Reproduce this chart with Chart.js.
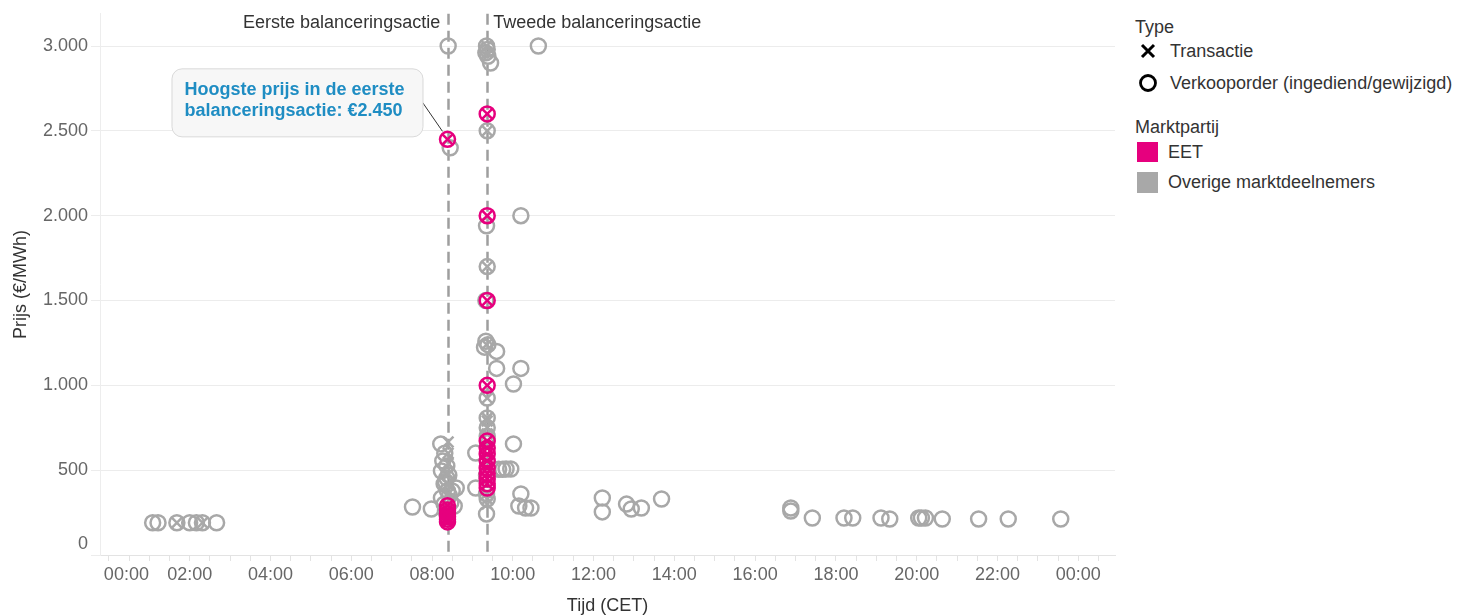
<!DOCTYPE html>
<html lang="nl">
<head>
<meta charset="utf-8">
<title>Verkooporders en transacties</title>
<script src="https://cdn.jsdelivr.net/npm/chart.js@4.4.1/dist/chart.umd.min.js"></script>
<style>
  html, body { margin: 0; padding: 0; background: #fff; }
  body { width: 1462px; height: 615px; overflow: hidden; position: relative;
         font-family: 'Liberation Sans', Arial, sans-serif; color: #333; }
  #chartWrap { position: absolute; left: 0; top: 0; width: 1125px; height: 615px; }
  .lg { position: absolute; font-size: 18px; height: 22px; line-height: 22px; white-space: nowrap; }
  .lg svg { position: absolute; }
</style>
</head>
<body>
<div id="chartWrap"><canvas id="prijsChart"></canvas></div>

<div class="lg" style="left:1135px; top:16px;">Type</div>
<div class="lg" style="left:1140px; top:40px;">
  <svg width="16" height="16" style="left:0; top:3px;"><path d="M2 2 L14 14 M14 2 L2 14" stroke="#000" stroke-width="3"/></svg>
  <span style="position:absolute; left:30px;">Transactie</span>
</div>
<div class="lg" style="left:1139px; top:72px;">
  <svg width="20" height="20" style="left:-1px; top:1px;"><circle cx="10" cy="10" r="7.5" fill="none" stroke="#000" stroke-width="2.8"/></svg>
  <span style="position:absolute; left:31px;">Verkooporder (ingediend/gewijzigd)</span>
</div>
<div class="lg" style="left:1135px; top:116px;">Marktpartij</div>
<div class="lg" style="left:1137px; top:141px;">
  <svg width="21" height="21" style="left:0; top:1px;"><rect width="21" height="20" fill="#e6007e"/></svg>
  <span style="position:absolute; left:31px;">EET</span>
</div>
<div class="lg" style="left:1137px; top:171px;">
  <svg width="21" height="21" style="left:0; top:1px;"><rect width="21" height="21" fill="#a8a8a8"/></svg>
  <span style="position:absolute; left:31px;">Overige marktdeelnemers</span>
</div>

<script>
// Tijd (CET) en prijs (EUR/MWh) per reeks
const eetTransactieTijd = ['08:23', '08:23', '08:23', '08:23', '08:23', '08:23', '08:23',
    '09:22', '09:22', '09:22', '09:22', '09:22', '09:22', '09:22', '09:22', '09:22', '09:22', '09:22', '09:22'];
const eetTransactiePrijs = [2450, 290, 265, 245, 225, 210, 195,
    2600, 2000, 1500, 1000, 672, 630, 596, 555, 513, 480, 448, 420];

const eetOrderTijd = ['08:23', '08:23', '08:23', '08:23', '08:23', '08:23', '08:23',
    '09:22', '09:22', '09:22', '09:22', '09:22', '09:22', '09:22', '09:22', '09:22', '09:22', '09:22', '09:22', '09:22'];
const eetOrderPrijs = [2450, 290, 265, 245, 225, 210, 195,
    2600, 2000, 1500, 1000, 672, 630, 596, 555, 513, 480, 448, 420, 395];

const overigeTransactieTijd = ['01:41', '02:19',
    '08:24', '08:24', '08:24', '08:24', '08:24', '08:24', '08:24',
    '09:21', '09:22', '09:22', '09:22', '09:21', '09:22', '09:22', '09:22', '09:22', '09:22', '09:22', '09:22', '09:22'];
const overigeTransactiePrijs = [190, 190,
    666, 600, 540, 480, 420, 360, 300,
    3000, 2960, 2500, 1700, 1240, 925, 808, 790, 750, 713, 365, 330, 300];

const overigeOrderTijd = [
    '01:05', '01:13', '01:41', '02:00', '02:10', '02:19', '02:40',
    '07:31', '07:59',
    '08:13', '08:19', '08:16', '08:22', '08:14', '08:25', '08:22', '08:20', '08:18', '08:23',
    '08:26', '08:14', '08:28', '08:18', '08:20', '08:33', '08:30', '08:36', '08:24', '08:27',
    '09:05', '09:05', '09:21', '09:22', '09:20', '09:23', '09:27', '09:22', '09:21', '09:22',
    '09:20', '09:20', '09:23', '09:18', '09:36', '09:36', '09:22', '09:22', '09:22', '09:22',
    '09:21', '09:22', '09:21', '09:21',
    '09:39', '09:45', '09:50', '09:57', '10:01', '10:01', '10:12', '10:12', '10:38', '10:12',
    '10:09', '10:19', '10:27',
    '12:13', '12:13', '12:49', '12:56', '13:11', '13:41',
    '16:53', '16:53', '17:25', '18:12', '18:25', '19:07', '19:20', '20:03', '20:07', '20:13',
    '20:38', '21:32', '22:16', '23:34'];
const overigeOrderPrijs = [
    190, 190, 190, 190, 190, 190, 190,
    283, 271,
    655, 600, 554, 525, 495, 470, 454, 430, 419, 377,
    350, 336, 310, 300, 260, 289, 377, 395, 3000, 2400,
    601, 395, 3000, 2980, 2960, 2940, 2900, 2500, 1940, 1700,
    1500, 1260, 1240, 1225, 1200, 1100, 925, 808, 750, 700,
    470, 330, 360, 242,
    505, 505, 507, 507, 1008, 655, 2000, 1100, 3000, 360,
    289, 277, 277,
    336, 254, 300, 271, 277, 330,
    277, 259, 218, 218, 218, 218, 212, 218, 218, 218,
    212, 212, 212, 212];

// aslabels
const prijsTicks = [0, 500, 1000, 1500, 2000, 2500, 3000];

const acties = ['Eerste balanceringsactie', 'Tweede balanceringsactie'];
const actieTijden = ['08:24', '09:22'];

const calloutTekst = ['Hoogste prijs in de eerste', 'balanceringsactie: \u20ac2.450'];
const calloutTijd = '08:23';
const calloutPrijs = 2450;

const kleurEET = '#e6007e';
const kleurOverig = '#a8a8a8';
const lettertype = "'Liberation Sans', Arial, sans-serif";

function toUren(t) {
    const [h, m] = t.split(':').map(Number);
    return h + m / 60;
}

function punten(tijden, prijzen) {
    return tijden.map((t, i) => ({ x: toUren(t), y: prijzen[i] }));
}

function reeks(label, tijden, prijzen, kleur, stijl) {
    return {
        label: label,
        data: punten(tijden, prijzen),
        pointStyle: stijl,
        pointRadius: 7.5,
        borderWidth: 2.5,
        borderColor: kleur,
        backgroundColor: 'rgba(0,0,0,0)'
    };
}

// verticale stippellijnen, hun labels en de callout
const annotaties = {
    id: 'annotaties',
    beforeDatasetsDraw(chart) {
        const { ctx, chartArea, scales: { x } } = chart;
        ctx.save();
        ctx.strokeStyle = '#9e9e9e';
        ctx.lineWidth = 2.5;
        ctx.setLineDash([11, 6]);
        actieTijden.forEach(t => {
            const px = Math.round(x.getPixelForValue(toUren(t))) + 0.5;
            ctx.beginPath();
            ctx.moveTo(px, chartArea.top);
            ctx.lineTo(px, chartArea.bottom);
            ctx.stroke();
        });
        ctx.setLineDash([]);
        ctx.font = '18px ' + lettertype;
        ctx.fillStyle = '#333';
        ctx.textBaseline = 'middle';
        const p1 = x.getPixelForValue(toUren(actieTijden[0]));
        const p2 = x.getPixelForValue(toUren(actieTijden[1]));
        ctx.textAlign = 'right';
        ctx.fillText(acties[0], p1 - 8, chartArea.top + 9);
        ctx.textAlign = 'left';
        ctx.fillText(acties[1], p2 + 6, chartArea.top + 9);
        ctx.restore();
    },
    afterDatasetsDraw(chart) {
        const { ctx, scales: { x, y } } = chart;
        const ax = x.getPixelForValue(toUren(calloutTijd));
        const ay = y.getPixelForValue(calloutPrijs);
        const left = ax - 276, top = ay - 71, w = 251, h = 68;
        ctx.save();
        ctx.strokeStyle = '#333';
        ctx.lineWidth = 1;
        ctx.beginPath();
        ctx.moveTo(left + w, top + 34);
        ctx.lineTo(ax - 5, ay - 8);
        ctx.stroke();
        ctx.fillStyle = '#f7f7f7';
        ctx.strokeStyle = '#d9d9d9';
        ctx.beginPath();
        ctx.roundRect(left + 0.5, top + 0.5, w, h, 10);
        ctx.fill();
        ctx.stroke();
        ctx.font = 'bold 18px ' + lettertype;
        ctx.fillStyle = '#1f8dc3';
        ctx.textBaseline = 'middle';
        ctx.textAlign = 'left';
        ctx.fillText(calloutTekst[0], left + 13, top + 22);
        ctx.fillText(calloutTekst[1], left + 13, top + 43);
        ctx.restore();
    }
};

Chart.defaults.font.family = lettertype;

const ctx = document.getElementById('prijsChart').getContext('2d');
const prijsChart = new Chart(ctx, {
    type: 'scatter',
    data: {
        datasets: [
            reeks('EET transactie', eetTransactieTijd, eetTransactiePrijs, kleurEET, 'crossRot'),
            reeks('EET verkooporder', eetOrderTijd, eetOrderPrijs, kleurEET, 'circle'),
            reeks('Overige transactie', overigeTransactieTijd, overigeTransactiePrijs, kleurOverig, 'crossRot'),
            reeks('Overige verkooporder', overigeOrderTijd, overigeOrderPrijs, kleurOverig, 'circle')
        ]
    },
    options: {
        responsive: true,
        maintainAspectRatio: false,
        animation: false,
        events: [],
        layout: { padding: { top: 13, right: 7, left: 0, bottom: 0 } },
        plugins: {
            legend: { display: false },
            tooltip: { enabled: false }
        },
        scales: {
            x: {
                type: 'linear',
                min: -0.22,
                max: 24.91,
                afterFit: scale => { scale.height = 60; },
                border: { color: '#e3e3e3' },
                grid: { drawOnChartArea: false, tickLength: 6, color: '#e3e3e3' },
                ticks: {
                    stepSize: 0.5,
                    includeBounds: false,
                    autoSkip: false,
                    maxRotation: 0,
                    padding: 3,
                    color: '#666',
                    font: { size: 18 },
                    callback: v => {
                        const u = Math.round(v);
                        if (Math.abs(v - u) > 1e-6 || u % 2 !== 0) return '';
                        const s = String(u % 24).padStart(2, '0') + ':00';
                        // eerste label iets naar rechts, zoals in het origineel
                        return u === 0 ? '       ' + s : s;
                    }
                },
                title: {
                    display: true,
                    text: 'Tijd (CET)',
                    color: '#333',
                    font: { size: 18, lineHeight: 1 },
                    padding: 0
                }
            },
            y: {
                min: 0,
                max: 3190,
                afterFit: scale => { scale.width = 100; },
                afterBuildTicks: scale => { scale.ticks = prijsTicks.map(v => ({ value: v })); },
                border: { color: '#ededed' },
                grid: { color: '#ececec', tickLength: 9 },
                ticks: {
                    padding: 3,
                    color: '#666',
                    font: { size: 18 },
                    callback: v => {
                        const s = String(v).replace(/\B(?=(\d{3})+(?!\d))/g, '.');
                        // nul iets omhoog, net als in het origineel
                        return v === 0 ? [s, ''] : s;
                    }
                },
                title: {
                    display: true,
                    text: 'Prijs (\u20ac/MWh)',
                    color: '#333',
                    font: { size: 18, lineHeight: 1.2 },
                    padding: { top: 10, bottom: 0 }
                }
            }
        }
    },
    plugins: [annotaties]
});
</script>
</body>
</html>
